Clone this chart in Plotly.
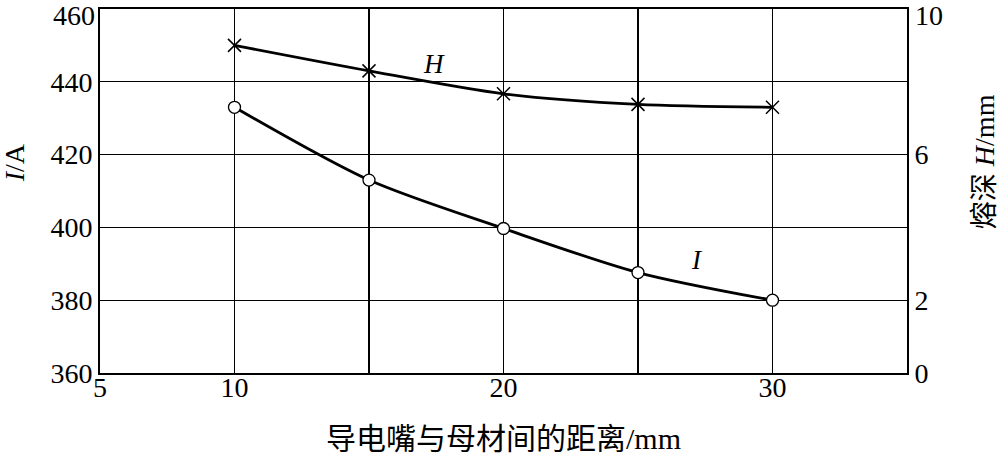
import plotly.graph_objects as go

# Data
distance = [10, 15, 20, 25, 30]           # 导电嘴与母材间的距离 / mm
current_I = [433, 413, 399.7, 387.6, 380]  # I / A
depth_H = [9.0, 8.3, 7.67, 7.38, 7.3]      # 熔深 H / mm

x_tickvals = [5, 10, 15, 20, 25, 30]
x_ticktext = ["5", "10", "", "20", "", "30"]
y_tickvals = [360, 380, 400, 420, 440, 460]
y_ticktext = ["360", "380", "400", "420", "440", ""]   # top label drawn below
y2_tickvals = [0, 2, 6, 10]
y2_ticktext = ["0", "2", "6", ""]                     # top label drawn below

FONT = "Liberation Serif, Noto Sans CJK SC"
TICK = dict(family=FONT, size=28, color="black")

fig = go.Figure()
fig.add_trace(go.Scatter(
    x=distance, y=current_I, mode="lines+markers",
    line=dict(color="black", width=2.8, shape="spline", smoothing=0.8),
    marker=dict(symbol="circle", size=12, color="white",
                line=dict(color="black", width=1.3)),
    yaxis="y", showlegend=False,
))
fig.add_trace(go.Scatter(
    x=distance, y=depth_H, mode="lines+markers",
    line=dict(color="black", width=2.8, shape="spline", smoothing=0.8),
    marker=dict(symbol="x-thin", size=13, color="black",
                line=dict(color="black", width=1.5)),
    yaxis="y2", showlegend=False,
))

# top tick labels, nudged slightly below the frame as in the reference
fig.add_annotation(xref="paper", yref="y", x=0, y=460, text="460",
                   xanchor="right", yanchor="middle", xshift=-4, yshift=-6,
                   borderpad=0, showarrow=False, font=TICK)
fig.add_annotation(xref="paper", yref="y2", x=1, y=10, text="10",
                   xanchor="left", yanchor="middle", xshift=7, yshift=-6,
                   borderpad=0, showarrow=False, font=TICK)

# curve labels
fig.add_annotation(x=17.4, y=445, text="<i>H</i>", showarrow=False,
                   font=dict(family=FONT, size=27, color="black"))
fig.add_annotation(x=27.2, y=391, text="<i>I</i>", showarrow=False,
                   font=dict(family=FONT, size=27, color="black"))

# axis titles (plot area spans x 100..907 px, y 9..373 px)
fig.add_annotation(xref="paper", yref="paper", x=-0.105, y=0.577,
                   xanchor="center", yanchor="middle",
                   text="<i>I</i>/A", showarrow=False, textangle=-90,
                   font=dict(family=FONT, size=28, color="black"))
fig.add_annotation(xref="paper", yref="paper", x=1.097, y=0.58,
                   xanchor="center", yanchor="middle",
                   text="熔深 <i>H</i>/mm", showarrow=False, textangle=-90,
                   font=dict(family=FONT, size=28, color="black"))
fig.add_annotation(xref="paper", yref="paper", x=0.5, y=-0.179,
                   xanchor="center", yanchor="middle",
                   text="导电嘴与母材间的距离/mm", showarrow=False,
                   font=dict(family=FONT, size=30, color="black"))

common = dict(showline=True, linecolor="black", linewidth=2, ticks="",
              zeroline=False, automargin=False, tickfont=TICK)

fig.update_layout(
    width=1001, height=455,
    margin=dict(l=100, r=94, t=9, b=82),
    paper_bgcolor="white", plot_bgcolor="white",
    font=dict(family=FONT, size=24, color="black"),
    xaxis=dict(range=[5, 35], tickvals=x_tickvals, ticktext=x_ticktext,
               showgrid=True, gridcolor="black", gridwidth=1.3,
               mirror=True, ticklabelstandoff=-12, **common),
    yaxis=dict(range=[360, 460], tickvals=y_tickvals, ticktext=y_ticktext,
               showgrid=True, gridcolor="black", gridwidth=1.3,
               mirror=True, **common),
    yaxis2=dict(range=[0, 10], tickvals=y2_tickvals, ticktext=y2_ticktext,
                overlaying="y", side="right", showgrid=False, **common),
)

fig.write_html("out.html",
               config={"displayModeBar": False, "staticPlot": True},
               post_script="document.body.style.margin='0';"
                           "document.body.style.overflow='hidden';")
